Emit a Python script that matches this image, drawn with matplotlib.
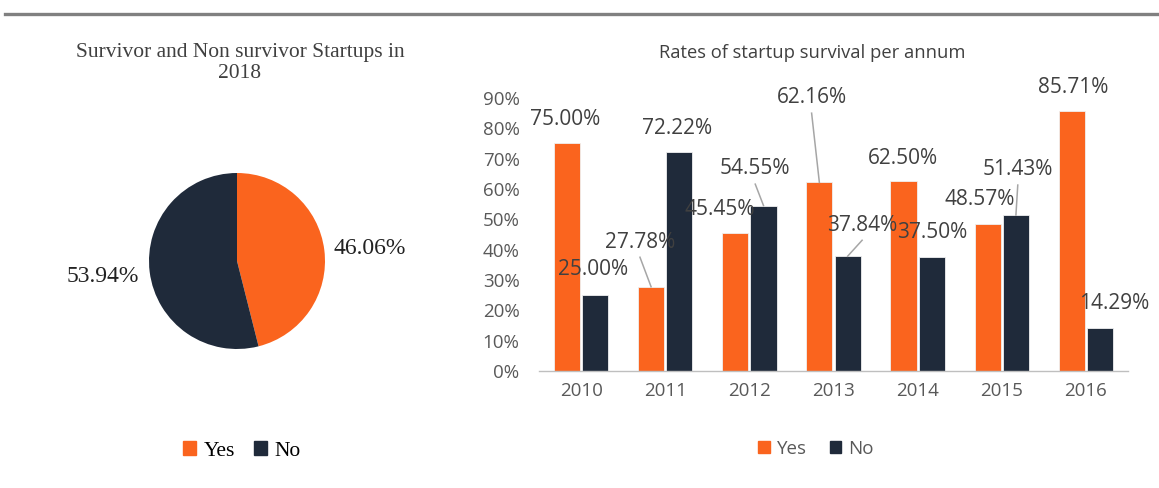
import matplotlib
matplotlib.use("Agg")
import matplotlib.pyplot as plt
from matplotlib.lines import Line2D
from matplotlib.patches import Patch

# ---- data ----
pie_labels = ["Yes", "No"]
pie_values = [46.06, 53.94]
pie_title = "Survivor and Non survivor Startups in\n2018"

years = ["2010", "2011", "2012", "2013", "2014", "2015", "2016"]
yes_rates = [75.00, 27.78, 45.45, 62.16, 62.50, 48.57, 85.71]
no_rates = [25.00, 72.22, 54.55, 37.84, 37.50, 51.43, 14.29]
bar_title = "Rates of startup survival per annum"
y_ticks = [0, 10, 20, 30, 40, 50, 60, 70, 80, 90]

# ---- style ----
ORANGE = "#FA641E"
NAVY = "#1F2A3A"
W, H = 1159, 488
fig = plt.figure(figsize=(W / 100, H / 100), dpi=100)

SERIF = ["Liberation Serif", "DejaVu Serif"]
SANS = ["Open Sans", "DejaVu Sans"]

# top rule
fig.add_artist(Line2D([5 / W, 1.0], [1 - 13.5 / H] * 2, color="#808080", lw=2.4,
                      transform=fig.transFigure))

# ---- pie ----
cx, cy, r = 237, 261, 88
axp = fig.add_axes([(cx - r) / W, (H - cy - r) / H, 2 * r / W, 2 * r / H])
axp.pie(pie_values, colors=[ORANGE, NAVY], startangle=90, counterclock=False,
        radius=1, wedgeprops=dict(linewidth=0))
axp.set_xlim(-1, 1)
axp.set_ylim(-1, 1)
axp.set_aspect("equal")
axp.axis("off")
fig.text(240 / W, 1 - 63 / H, pie_title, ha="center", va="center",
         family=SERIF, fontsize=15.5, color="#404040", linespacing=1.1)
fig.text(370 / W, 1 - 248 / H, f"{pie_values[0]:.2f}%", ha="center", va="center",
         family=SERIF, fontsize=17, color="#222222")
fig.text(103 / W, 1 - 276 / H, f"{pie_values[1]:.2f}%", ha="center", va="center",
         family=SERIF, fontsize=17, color="#222222")
pie_handles = [Patch(color=ORANGE), Patch(color=NAVY)]
fig.legend(pie_handles, pie_labels, loc="center", bbox_to_anchor=(242 / W, 1 - 451 / H),
           ncol=2, frameon=False, handlelength=0.6, handleheight=0.6,
           handletextpad=0.35, columnspacing=0.9,
           prop=dict(family=SERIF, size=15.5))

# ---- bars ----
ax = fig.add_axes([539 / W, (H - 371) / H, (1128 - 539) / W, (371 - 98) / H])
x = list(range(len(years)))
bw = 0.31
off = 0.168
ax.bar([i - off for i in x], yes_rates, width=bw, color=ORANGE, edgecolor="#f0f0f0",
       linewidth=0.6, label="Yes")
ax.bar([i + off for i in x], no_rates, width=bw, color=NAVY, edgecolor="#f0f0f0",
       linewidth=0.6, label="No")
ax.set_xlim(-0.5, len(years) - 0.5)
ax.set_ylim(0, 90)
ax.set_yticks(y_ticks)
ax.set_yticklabels([f"{t}%" for t in y_ticks])
ax.set_xticks(x)
ax.set_xticklabels(years)
for s in ["top", "right", "left"]:
    ax.spines[s].set_visible(False)
ax.spines["bottom"].set_color("#BFBFBF")
ax.spines["bottom"].set_linewidth(1.0)
ax.tick_params(axis="both", length=0, labelsize=13.5, labelcolor="#595959")
ax.tick_params(axis="y", pad=14)
ax.tick_params(axis="x", pad=8)
for lab in ax.get_xticklabels() + ax.get_yticklabels():
    lab.set_family(SANS)
fig.text(812 / W, 1 - 53 / H, bar_title, ha="center", va="center",
         family=SANS, fontsize=13.2, color="#404040")

# data label positions (relative x offset, y in %) and leader flags
yes_lab = [(-0.19, 82.8, False), (-0.30, 42.5, True), (-0.35, 53.1, False),
           (-0.26, 90.0, True), (-0.17, 70.2, False), (-0.26, 56.4, False),
           (-0.15, 93.6, False)]
no_lab = [(0.14, 33.3, False), (0.14, 80.1, False), (0.07, 66.6, True),
          (0.34, 48.1, True), (0.17, 45.5, False), (0.19, 66.3, True),
          (0.33, 22.4, False)]

def put(i, val, sign, spec):
    dx, ly, leader = spec
    bx = i + sign * off
    ax.text(i + dx, ly, f"{val:.2f}%", ha="center", va="center", family=SANS,
            fontsize=15, color="#404040", clip_on=False)
    if leader:
        sx = i + dx
        ax.plot([sx, bx], [ly - 5.0, val], color="#A6A6A6",
                lw=1.1, clip_on=False)

for i in x:
    put(i, yes_rates[i], -1, yes_lab[i])
    put(i, no_rates[i], 1, no_lab[i])

bar_handles = [Patch(color=ORANGE), Patch(color=NAVY)]
fig.legend(bar_handles, ["Yes", "No"], loc="center", bbox_to_anchor=(816 / W, 1 - 449 / H),
           ncol=2, frameon=False, handlelength=0.6, handleheight=0.6,
           handletextpad=0.4, columnspacing=1.2,
           prop=dict(family=SANS, size=13.5), labelcolor="#595959")

fig.savefig("out.png", dpi=100, facecolor="white")
